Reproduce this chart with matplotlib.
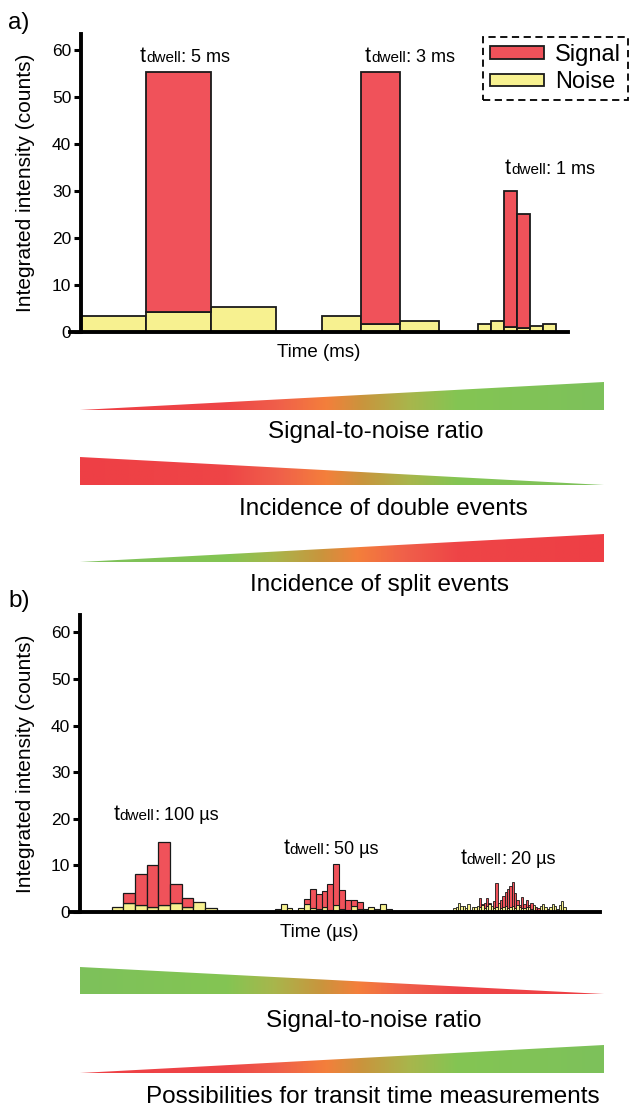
import matplotlib
matplotlib.use('Agg')
import matplotlib.pyplot as plt
import numpy as np
from matplotlib.patches import Polygon, Patch
from matplotlib.colors import LinearSegmentedColormap
from matplotlib.offsetbox import TextArea, HPacker, AnnotationBbox

plt.rcParams['font.family'] = ['Liberation Sans', 'DejaVu Sans']

# ---------------- data ----------------
# panel a (time in ms)
a_dwell_ms = [5, 3, 1]
a_start_ms = [0.0, 18.5, 30.5]
a_noise_5ms = [3.3, 4.3, 5.3]
a_signal_5ms = [0.0, 51.0, 0.0]
a_noise_3ms = [3.3, 1.7, 2.3]
a_signal_3ms = [0.0, 53.6, 0.0]
a_noise_1ms = [1.7, 2.3, 1.1, 0.8, 1.3, 1.7]
a_signal_1ms = [0.0, 0.0, 28.9, 24.2, 0.0, 0.0]

# panel b (time in µs)
b_dwell_us = [100, 50, 20]
b_start_us = [270, 1665, 3190]
b_noise_100us = [1.1, 1.9, 1.4, 1.0, 1.4, 2.0, 1.0, 2.1, 0.9]
b_signal_100us = [0.0, 2.2, 6.7, 9.1, 13.6, 4.0, 1.9, 0.0, 0.0]
b_noise_50us = [0.7, 1.8, 0.8, 0.0, 0.8, 1.8, 0.8, 0.6, 1.0, 0.5,
                1.5, 0.6, 0.5, 1.2, 0.6, 0.7, 1.1, 0.7, 1.7, 0.7]
b_signal_50us = [0.0, 0.0, 0.0, 0.0, 0.0, 0.9, 4.2, 3.2, 3.5, 5.5,
                 8.7, 4.1, 2.1, 1.3, 1.6, 0.0, 0.0, 0.0, 0.0, 0.0]
b_noise_20us = [0.8, 1.0, 2.0, 1.2, 1.3, 0.8, 1.8, 0.5, 1.0, 1.0,
                1.3, 1.0, 1.5, 0.8, 1.2, 1.8, 1.3, 0.9, 1.0, 2.0,
                0.8, 1.0, 1.2, 0.9, 1.1, 1.3, 0.8, 1.5, 1.0, 0.9,
                0.8, 1.0, 1.0, 0.7, 1.5, 0.5, 0.4, 1.2, 1.7, 1.0,
                0.7, 1.0, 1.8, 1.3, 0.6, 1.5, 2.3, 1.0]
b_signal_20us = [0.0, 0.0, 0.0, 0.0, 0.0, 0.0, 0.0, 0.0, 0.0, 0.0,
                 0.0, 2.0, 0.3, 1.2, 1.8, 0.2, 0.0, 1.4, 5.3, 0.0,
                 1.7, 2.5, 3.0, 4.1, 4.4, 5.2, 3.2, 1.0, 0.5, 2.4,
                 1.0, 1.5, 0.5, 1.3, 0.0, 0.5, 0.4, 0.0, 0.0, 0.0,
                 0.0, 0.0, 0.0, 0.0, 0.0, 0.0, 0.0, 0.0]

legend_labels = ['Signal', 'Noise']
a_gradient_labels = ['Signal-to-noise ratio', 'Incidence of double events',
                     'Incidence of split events']
b_gradient_labels = ['Signal-to-noise ratio',
                     'Possibilities for transit time measurements']

# ---------------- style ----------------
RED = '#F0525A'
YEL = '#F7F190'
EDGE = '#1a1a1a'
W, H = 636, 1111

fig = plt.figure(figsize=(W / 100, H / 100), dpi=100)

# background overlay axes in image pixel coordinates
ax_bg = fig.add_axes([0, 0, 1, 1], zorder=0)
ax_bg.axis('off')

def fig_rect(left_px, right_px, top_px, bottom_px):
    return [left_px / W, 1 - bottom_px / H, (right_px - left_px) / W,
            (bottom_px - top_px) / H]

def style_axes(ax):
    for s in ['top', 'right']:
        ax.spines[s].set_visible(False)
    ax.spines['left'].set_linewidth(2.8)
    ax.spines['bottom'].set_linewidth(2.8)
    ax.spines['left'].set_position(('data', 0))
    ax.set_xticks([])
    ax.set_yticks([0, 10, 20, 30, 40, 50, 60])
    ax.tick_params(axis='y', direction='out', length=5, width=2.2,
                   labelsize=12.5, pad=2)
    ax.set_facecolor('none')

def stacked(ax, start, width, noise, signal, lw):
    n = len(noise)
    x = start + width * np.arange(n)
    ax.bar(x, noise, width=width, align='edge', color=YEL, edgecolor=EDGE,
           linewidth=lw, zorder=2)
    sig = np.array(signal)
    m = sig > 0
    ax.bar(x[m], sig[m], width=width, bottom=np.array(noise)[m], align='edge',
           color=RED, edgecolor=EDGE, linewidth=lw, zorder=2)

def dwell_label(text_value, x_px, y_px):
    parts = [TextArea('t', textprops=dict(fontsize=15.5)),
             TextArea('dwell', textprops=dict(fontsize=11)),
             TextArea(':', textprops=dict(fontsize=14)),
             TextArea(' ' + text_value, textprops=dict(fontsize=13))]
    box = HPacker(children=parts, align='baseline', pad=0, sep=0)
    ab = AnnotationBbox(box, (x_px, H - y_px), xycoords='figure pixels',
                        box_alignment=(0.5, 0.5), frameon=False,
                        annotation_clip=False)
    fig.add_artist(ab)

# ---------------- panel a ----------------
px_per_ms = 13.0
ax_a = fig.add_axes(fig_rect(70, 568, 33.5, 332), zorder=2)
style_axes(ax_a)
ax_a.set_xlim(-11 / px_per_ms, 487 / px_per_ms)
ax_a.set_ylim(0, 63.5)
stacked(ax_a, a_start_ms[0], a_dwell_ms[0], a_noise_5ms, a_signal_5ms, 1.3)
stacked(ax_a, a_start_ms[1], a_dwell_ms[1], a_noise_3ms, a_signal_3ms, 1.3)
stacked(ax_a, a_start_ms[2], a_dwell_ms[2], a_noise_1ms, a_signal_1ms, 1.3)
ax_a.set_ylabel('Integrated intensity (counts)', fontsize=15)
ax_a.yaxis.set_label_coords(-0.07, 0.5)
ax_a.set_xlabel('Time (ms)', fontsize=13.5)
ax_a.xaxis.set_label_coords(0.5, -0.04)

handles = [Patch(facecolor=RED, edgecolor=EDGE, linewidth=1.3),
           Patch(facecolor=YEL, edgecolor=EDGE, linewidth=1.3)]
leg = ax_a.legend(handles, legend_labels, loc='upper left',
                  bbox_to_anchor=(483 / W, 1 - 37 / H),
                  bbox_transform=fig.transFigure, fancybox=False,
                  edgecolor='black', fontsize=17, handlelength=2.3,
                  handleheight=0.45, borderpad=0.3, labelspacing=0.22,
                  handletextpad=0.45, borderaxespad=0, framealpha=1)
leg.get_frame().set_linestyle((0, (4, 2.5)))
leg.get_frame().set_linewidth(1.3)

dwell_label('5 ms', 185, 56)
dwell_label('3 ms', 410, 56)
dwell_label('1 ms', 550, 168)

fig.text(8 / W, 1 - 23 / H, 'a)', fontsize=17.5, va='center', ha='left')

# ---------------- panel b ----------------
px_per_us = 0.117
ax_b = fig.add_axes(fig_rect(70, 600, 615, 912), zorder=2)
style_axes(ax_b)
ax_b.set_xlim(-10 / px_per_us, 520 / px_per_us)
ax_b.set_ylim(0, 63.7)
stacked(ax_b, b_start_us[0], b_dwell_us[0], b_noise_100us, b_signal_100us, 0.9)
stacked(ax_b, b_start_us[1], b_dwell_us[1], b_noise_50us, b_signal_50us, 0.8)
stacked(ax_b, b_start_us[2], b_dwell_us[2], b_noise_20us, b_signal_20us, 0.6)
ax_b.set_ylabel('Integrated intensity (counts)', fontsize=15)
ax_b.yaxis.set_label_coords(-0.066, 0.5)
ax_b.set_xlabel('Time (µs)', fontsize=13.5)
ax_b.xaxis.set_label_coords(0.47, -0.04)

dwell_label('100 µs', 166, 815)
dwell_label('50 µs', 331, 848)
dwell_label('20 µs', 508, 858)

fig.text(8 / W, 1 - 601 / H, 'b)', fontsize=17.5, va='center', ha='left')

# ---------------- gradient wedges ----------------
cmap = LinearSegmentedColormap.from_list('rg', [
    (0.00, '#EE3F45'), (0.28, '#EE4547'), (0.38, '#F0604A'),
    (0.47, '#F47F3B'), (0.54, '#C9953D'), (0.63, '#A8B64C'),
    (0.72, '#84C553'), (1.00, '#7DC15B')])
grad = np.linspace(0, 1, 512)[None, :]

def wedge(points, reverse, x0=80, x1=604):
    ys = [p[1] for p in points]
    g = grad[:, ::-1] if reverse else grad
    im = ax_bg.imshow(g, cmap=cmap, aspect='auto',
                      extent=(x0, x1, max(ys), min(ys)), interpolation='bilinear')
    poly = Polygon(points, closed=True, facecolor='none', edgecolor='none',
                   transform=ax_bg.transData)
    ax_bg.add_patch(poly)
    im.set_clip_path(poly)

wedge([(80, 410), (604, 382), (604, 410)], False)
wedge([(80, 457), (80, 485), (604, 485)], False)
wedge([(80, 562), (604, 534), (604, 562)], True)
wedge([(80, 967), (80, 994), (604, 994)], True)
wedge([(80, 1073), (604, 1045), (604, 1073)], False)

ax_bg.set_xlim(0, W)
ax_bg.set_ylim(H, 0)

txt_kw = dict(fontsize=17.5, ha='center', va='center')
ax_bg.text(376, 432, a_gradient_labels[0], **txt_kw)
ax_bg.text(383, 509, a_gradient_labels[1], **txt_kw)
ax_bg.text(380, 585, a_gradient_labels[2], **txt_kw)
ax_bg.text(374, 1021, b_gradient_labels[0], **txt_kw)
ax_bg.text(373, 1097, b_gradient_labels[1], **txt_kw)

fig.savefig('out.png', dpi=100)
